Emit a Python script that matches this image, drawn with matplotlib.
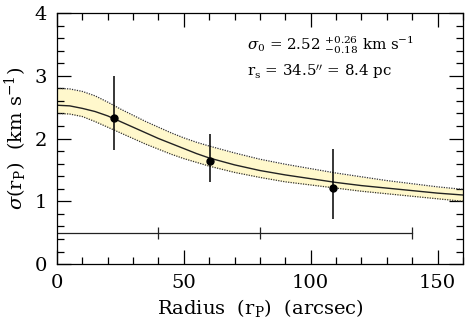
import numpy as np
import matplotlib
matplotlib.use("Agg")
import matplotlib.pyplot as plt
from matplotlib.ticker import MultipleLocator

plt.rcParams["font.family"] = "DejaVu Serif"
plt.rcParams["mathtext.fontset"] = "dejavuserif"

# model curve and 1-sigma band
r_model = [0, 5, 10, 15, 20, 25, 30, 35, 40, 45, 50, 55, 60, 70, 80, 90, 100, 110, 120, 130, 140, 150, 160]
sig_model = [2.53, 2.52, 2.48, 2.43, 2.36, 2.27, 2.18, 2.09, 2.00, 1.92, 1.84, 1.76, 1.69,
             1.58, 1.49, 1.42, 1.36, 1.30, 1.25, 1.21, 1.17, 1.13, 1.10]
sig_upper = [2.80, 2.79, 2.75, 2.68, 2.58, 2.47, 2.37, 2.27, 2.18, 2.09, 2.01, 1.94, 1.88,
             1.77, 1.67, 1.59, 1.52, 1.45, 1.39, 1.33, 1.28, 1.23, 1.19]
sig_lower = [2.40, 2.39, 2.35, 2.27, 2.18, 2.09, 2.00, 1.91, 1.83, 1.75, 1.68, 1.62, 1.56,
             1.46, 1.38, 1.31, 1.26, 1.21, 1.16, 1.12, 1.08, 1.04, 1.00]

# binned dispersion measurements
r_data = [22.4, 60.5, 108.8]
sig_data = [2.32, 1.64, 1.21]
err_hi = [0.68, 0.43, 0.63]
err_lo = [0.50, 0.33, 0.50]

# bin edges
bin_edges = [0, 40, 80, 140]
bin_level = 0.5

fig = plt.figure(figsize=(4.69, 3.24), dpi=100)
ax = fig.add_axes([0.1215, 0.185, 0.8655, 0.775])

ax.fill_between(r_model, sig_lower, sig_upper, color="#fff8cc", lw=0)
ax.plot(r_model, sig_upper, color="#333333", lw=0.9, ls=(0, (1, 1)))
ax.plot(r_model, sig_lower, color="#333333", lw=0.9, ls=(0, (1, 1)))
ax.plot(r_model, sig_model, color="#222222", lw=1.0)

ax.errorbar(r_data, sig_data, yerr=[err_lo, err_hi], fmt="o", color="black",
            ms=5, elinewidth=1.1, capsize=0)

ax.plot([bin_edges[0], bin_edges[-1]], [bin_level, bin_level], color="#222222", lw=0.9)
ax.plot(bin_edges[1:], [bin_level] * 3, ls="none", marker="|", ms=8, mew=0.9, color="#222222")

ax.set_xlim(0, 160)
ax.set_ylim(0, 4)
ax.xaxis.set_major_locator(MultipleLocator(50))
ax.xaxis.set_minor_locator(MultipleLocator(10))
ax.yaxis.set_major_locator(MultipleLocator(1))
ax.yaxis.set_minor_locator(MultipleLocator(0.2))
ax.tick_params(which="both", direction="in", top=True, right=True, labelsize=14, width=0.9)
ax.tick_params(which="major", length=10, pad=7)
ax.tick_params(which="minor", length=5)
for s in ax.spines.values():
    s.set_linewidth(0.9)

ax.set_xlabel(r"Radius  (r$_{\rm P}$)  (arcsec)", fontsize=14, labelpad=4)
ax.set_ylabel(r"$\sigma$(r$_{\rm P}$)  (km s$^{-1}$)", fontsize=14, labelpad=4)

ax.text(75, 3.49, r"$\sigma_0$ = 2.52 $^{+0.26}_{-0.18}$ km s$^{-1}$", fontsize=10.8, va="center")
ax.text(75, 3.07, r"r$_{\rm s}$ = 34.5$''$ = 8.4 pc", fontsize=10.8, va="center")

fig.savefig("out.png", dpi=100)
